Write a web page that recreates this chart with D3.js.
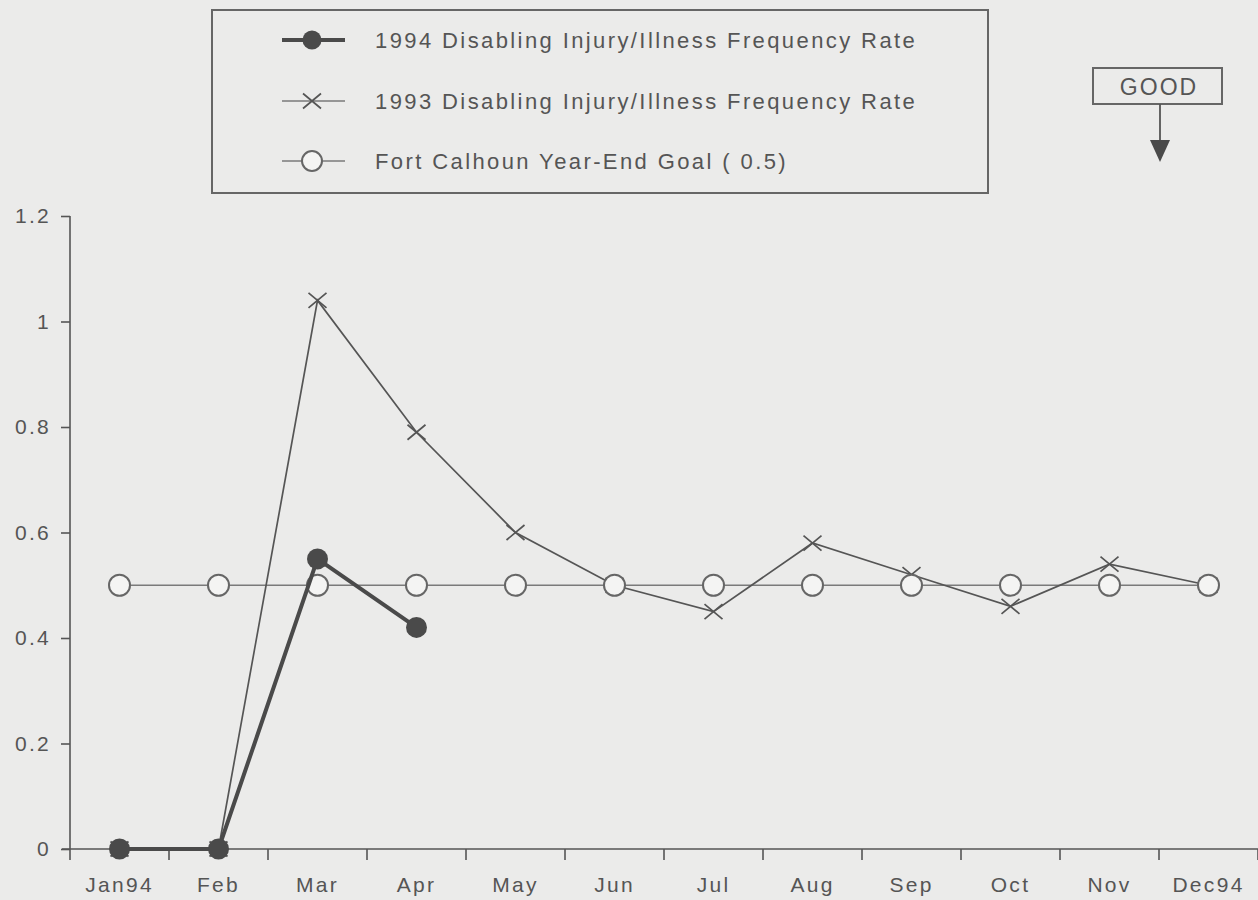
<!DOCTYPE html>
<html>
<head>
<meta charset="utf-8">
<script src="https://cdn.jsdelivr.net/npm/d3@7"></script>
<style>
  body { margin: 0; background: #ebebea; }
  svg { display: block; }
  text { font-family: "Liberation Sans", Arial, sans-serif; fill: #555; }
</style>
</head>
<body>
<script>
const width = 1258, height = 900;

// data
const months = ['Jan94', 'Feb', 'Mar', 'Apr', 'May', 'Jun', 'Jul', 'Aug', 'Sep', 'Oct', 'Nov', 'Dec94'];
const rate1994 = [0, 0, 0.55, 0.42];
const rate1993 = [0, 0, 1.04, 0.79, 0.60, 0.50, 0.45, 0.58, 0.52, 0.46, 0.54, 0.50];
const goal = [0.5, 0.5, 0.5, 0.5, 0.5, 0.5, 0.5, 0.5, 0.5, 0.5, 0.5, 0.5];
const yTicks = [0, 0.2, 0.4, 0.6, 0.8, 1, 1.2];
const legendLabels = [
    '1994 Disabling Injury/Illness Frequency Rate',
    '1993 Disabling Injury/Illness Frequency Rate',
    'Fort Calhoun Year-End Goal ( 0.5)'
];

const ink = '#555';
const dark = '#4a4a4a';

const x = d3.scaleBand().domain(months).range([70, 1258]);
const cx = m => x(m) + x.bandwidth() / 2;
const y = d3.scaleLinear().domain([0, 1.2]).range([849, 216]);

const svg = d3.select('body').append('svg')
    .attr('width', width)
    .attr('height', height);

// axes
const yAxis = svg.append('g')
    .attr('transform', 'translate(70,0)')
    .call(d3.axisLeft(y).tickValues(yTicks).tickSize(9).tickPadding(12)
        .tickFormat(d => d3.format('')(d)));
yAxis.select('.domain').attr('d', `M0,${y(1.2)}V860`);

const xAxis = svg.append('g')
    .attr('transform', 'translate(0,849)')
    .call(d3.axisBottom(x).tickSize(0).tickPadding(28));
xAxis.select('.domain').attr('d', 'M62,0H1258');
// tick marks sit on the band edges
xAxis.selectAll('line.edge')
    .data(months.slice(1).concat(['end']))
    .enter().append('line')
    .attr('class', 'edge')
    .attr('x1', (d, i) => 70 + (i + 1) * x.bandwidth())
    .attr('x2', (d, i) => 70 + (i + 1) * x.bandwidth())
    .attr('y1', 0).attr('y2', 11);

svg.selectAll('.domain, .tick line, line.edge')
    .attr('stroke', ink).attr('stroke-width', 1.6);
svg.selectAll('.tick text')
    .style('font-size', '21px').style('letter-spacing', '2.3px').attr('fill', ink);
yAxis.selectAll('.tick text').attr('dx', 2);

const line = d3.line().x((d, i) => cx(months[i])).y(d => y(d));

const cross = (g, px, py) => {
    const sx = 9, sy = 7.5;
    g.append('path')
        .attr('d', `M${px - sx},${py - sy}L${px + sx},${py + sy}M${px - sx},${py + sy}L${px + sx},${py - sy}`)
        .attr('stroke', ink).attr('stroke-width', 1.7).attr('fill', 'none');
};

// goal line
svg.append('path').datum(goal)
    .attr('d', line).attr('fill', 'none')
    .attr('stroke', '#7a7a7a').attr('stroke-width', 1.6);

// 1993 line + markers
svg.append('path').datum(rate1993)
    .attr('d', line).attr('fill', 'none')
    .attr('stroke', ink).attr('stroke-width', 1.7);
const g93 = svg.append('g');
rate1993.forEach((v, i) => cross(g93, cx(months[i]), y(v)));

// goal markers
svg.selectAll('circle.goal').data(goal).enter().append('circle')
    .attr('class', 'goal')
    .attr('cx', (d, i) => cx(months[i])).attr('cy', d => y(d)).attr('r', 10.5)
    .attr('fill', '#f4f4f3').attr('stroke', '#666').attr('stroke-width', 2);

// 1994 line + markers
svg.append('path').datum(rate1994)
    .attr('d', line).attr('fill', 'none')
    .attr('stroke', dark).attr('stroke-width', 4);
svg.selectAll('circle.r94').data(rate1994).enter().append('circle')
    .attr('class', 'r94')
    .attr('cx', (d, i) => cx(months[i])).attr('cy', d => y(d)).attr('r', 10.5)
    .attr('fill', dark);

// legend
const legend = svg.append('g');
legend.append('rect')
    .attr('x', 212).attr('y', 10).attr('width', 776).attr('height', 183)
    .attr('fill', 'none').attr('stroke', '#666').attr('stroke-width', 2);
const rows = [40, 101, 161];
legendLabels.forEach((label, i) => {
    const ly = rows[i];
    legend.append('line')
        .attr('x1', 282).attr('x2', 345).attr('y1', ly).attr('y2', ly)
        .attr('stroke', i === 0 ? dark : '#7a7a7a')
        .attr('stroke-width', i === 0 ? 4 : 1.6);
    if (i === 0) {
        legend.append('circle').attr('cx', 312).attr('cy', ly).attr('r', 9.5).attr('fill', dark);
    } else if (i === 1) {
        cross(legend, 312, ly);
    } else {
        legend.append('circle').attr('cx', 312).attr('cy', ly).attr('r', 10)
            .attr('fill', '#f4f4f3').attr('stroke', '#666').attr('stroke-width', 2);
    }
    legend.append('text')
        .attr('x', 375).attr('y', ly + 8)
        .style('font-size', '22px').style('letter-spacing', '2.4px')
        .text(label);
});

// GOOD indicator
const good = svg.append('g');
good.append('rect')
    .attr('x', 1093).attr('y', 68).attr('width', 129).attr('height', 36)
    .attr('fill', 'none').attr('stroke', '#666').attr('stroke-width', 2);
good.append('text')
    .attr('x', 1159).attr('y', 95).attr('text-anchor', 'middle')
    .style('font-size', '23px').style('letter-spacing', '2px').text('GOOD');
good.append('line')
    .attr('x1', 1160).attr('x2', 1160).attr('y1', 104).attr('y2', 142)
    .attr('stroke', ink).attr('stroke-width', 1.8);
good.append('path')
    .attr('d', 'M1150,140L1170,140L1160,162Z').attr('fill', dark);
</script>
</body>
</html>
